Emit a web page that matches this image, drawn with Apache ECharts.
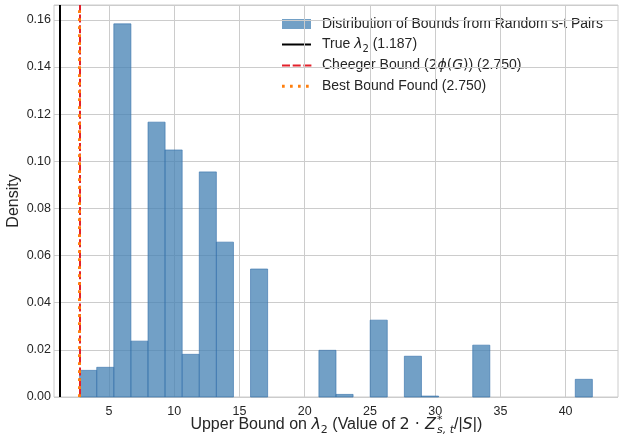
<!DOCTYPE html>
<html>
<head>
<meta charset="utf-8">
<script src="https://cdn.jsdelivr.net/npm/echarts@6/dist/echarts.min.js"></script>
<style>
  html, body { margin: 0; padding: 0; background: #fff; }
  #chart { width: 620px; height: 435px; }
</style>
</head>
<body>
<div id="chart"></div>
<script>
// histogram: 30 equal bins between binLo and binHi, density per bin
var binLo = 2.75;
var binHi = 42.05;
var nBins = 30;
var density = [0.0113, 0.0126, 0.1583, 0.0237, 0.1166, 0.1048, 0.0181, 0.0955, 0.0657, 0,
               0.0543, 0, 0, 0, 0.0198, 0.0011, 0, 0.0326, 0, 0.0173,
               0.0004, 0, 0, 0.0220, 0, 0, 0, 0, 0, 0.0075];
var trueLambda = 1.187;
var cheegerBound = 2.750;
var bestBound = 2.750;
var xTicks = [5, 10, 15, 20, 25, 30, 35, 40];

var barFill = 'rgba(70,130,180,0.76)';
var txt = '#262626';
var sans = 'Liberation Sans, Arial, sans-serif';
var math = 'DejaVu Sans, sans-serif';

var binW = (binHi - binLo) / nBins;
var histData = density.map(function (d, i) {
  return [binLo + i * binW, binLo + (i + 1) * binW, d];
});

var chart = echarts.init(document.getElementById('chart'));

var mathRich = {
  m: { fontFamily: math, fontStyle: 'italic', fontSize: 14, lineHeight: 19, color: txt },
  n: { fontFamily: math, fontSize: 14, lineHeight: 19, color: txt },
  sub: { fontFamily: math, fontSize: 10, lineHeight: 9, verticalAlign: 'bottom', color: txt }
};

var legendRows = [24, 44.5, 65.5, 86.3];
var legendText = [
  'Distribution of Bounds from Random s-t Pairs',
  'True {m|λ}{sub|2} (1.187)',
  'Cheeger Bound ({n|2}{m|ϕ}{n|(}{m|G}{n|)}) (2.750)',
  'Best Bound Found (2.750)'
];

var graphics = [
  { type: 'rect', shape: { x: 282, y: legendRows[0] - 5, width: 29, height: 10 }, style: { fill: barFill } },
  { type: 'line', shape: { x1: 282, y1: legendRows[1], x2: 311, y2: legendRows[1] }, style: { stroke: '#000', lineWidth: 2 } },
  { type: 'line', shape: { x1: 282, y1: legendRows[2], x2: 311.5, y2: legendRows[2] }, style: { stroke: '#e3212b', lineWidth: 2, lineDash: [8, 2.7] } },
  { type: 'line', shape: { x1: 282, y1: legendRows[3], x2: 311, y2: legendRows[3] }, style: { stroke: '#ff7f0e', lineWidth: 3, lineDash: [2.7, 5.3] } }
];
legendText.forEach(function (t, i) {
  graphics.push({
    type: 'text', x: 322, y: legendRows[i],
    style: {
      text: t, fill: txt, font: '14px ' + sans, lineHeight: 19,
      verticalAlign: 'middle', align: 'left', rich: mathRich
    }
  });
});

// x axis title, pieced together around the stacked Z*_{s,t}
var bigRich = {
  m: { fontFamily: math, fontStyle: 'italic', fontSize: 16, lineHeight: 21, color: txt },
  n: { fontFamily: math, fontSize: 16, lineHeight: 21, color: txt },
  s: { fontFamily: sans, fontSize: 16, lineHeight: 21, color: txt },
  sub: { fontFamily: math, fontSize: 11, lineHeight: 10, verticalAlign: 'bottom', color: txt }
};
graphics.push(
  { type: 'text', x: 436, y: 425,
    style: { text: 'Upper Bound on {m|λ}{sub|2} (Value of {n|2 · }{m|Z}', fill: txt, font: '16px ' + sans,
             lineHeight: 21, align: 'right', verticalAlign: 'middle', rich: bigRich } },
  { type: 'text', x: 437, y: 420,
    style: { text: '*', fill: txt, font: '11px ' + math, align: 'left', verticalAlign: 'middle' } },
  { type: 'text', x: 437, y: 430,
    style: { text: 's, t', fill: txt, font: 'italic 11px ' + math, align: 'left', verticalAlign: 'middle' } },
  { type: 'text', x: 454, y: 425,
    style: { text: '{s|/|}{m|S}{s||)}', fill: txt, font: '16px ' + sans,
             lineHeight: 21, align: 'left', verticalAlign: 'middle', rich: bigRich } },
  { type: 'text', x: 14, y: 201, rotation: Math.PI / 2,
    style: { text: 'Density', fill: txt, font: '16px ' + sans, align: 'center', verticalAlign: 'middle' } }
);

var option = {
  backgroundColor: '#fff',
  animation: false,
  grid: {
    left: 54, right: 2, top: 5, bottom: 38,
    show: true, borderColor: '#cccccc', borderWidth: 1
  },
  xAxis: {
    type: 'value',
    min: 0.785,
    max: 44.015,
    axisLine: { show: false },
    axisTick: { show: false, customValues: xTicks },
    axisLabel: { customValues: xTicks, color: txt, fontSize: 12.5, fontFamily: sans, margin: 8 },
    splitLine: { show: true, lineStyle: { color: '#cccccc', width: 1 } }
  },
  yAxis: {
    type: 'value',
    min: 0,
    max: 0.1663,
    interval: 0.02,
    axisLine: { show: false },
    axisTick: { show: false },
    axisLabel: {
      color: txt, fontSize: 12.5, fontFamily: sans, margin: 3, showMaxLabel: false,
      formatter: function (v) { return v.toFixed(2); }
    },
    splitLine: { show: true, lineStyle: { color: '#cccccc', width: 1 } }
  },
  series: [{
    type: 'custom',
    name: 'Distribution of Bounds from Random s-t Pairs',
    data: histData,
    encode: { x: [0, 1], y: 2 },
    renderItem: function (params, api) {
      var h = api.value(2);
      if (!h) return null;
      var p0 = api.coord([api.value(0), h]);
      var p1 = api.coord([api.value(1), 0]);
      return {
        type: 'rect',
        shape: { x: p0[0], y: p0[1], width: p1[0] - p0[0], height: p1[1] - p0[1] },
        style: { fill: barFill, stroke: 'rgba(50,110,170,0.75)', lineWidth: 0.8 }
      };
    },
    markLine: {
      silent: true,
      symbol: ['none', 'none'],
      label: { show: false },
      animation: false,
      data: [
        { xAxis: trueLambda, lineStyle: { color: '#000', width: 2, type: 'solid' } },
        { xAxis: cheegerBound, lineStyle: { color: '#e3212b', width: 2, type: [8, 2.7] } },
        { xAxis: bestBound, lineStyle: { color: '#ff7f0e', width: 3, type: [2.7, 5.3] } }
      ]
    }
  }],
  graphic: graphics
};
chart.setOption(option);
</script>
</body>
</html>
